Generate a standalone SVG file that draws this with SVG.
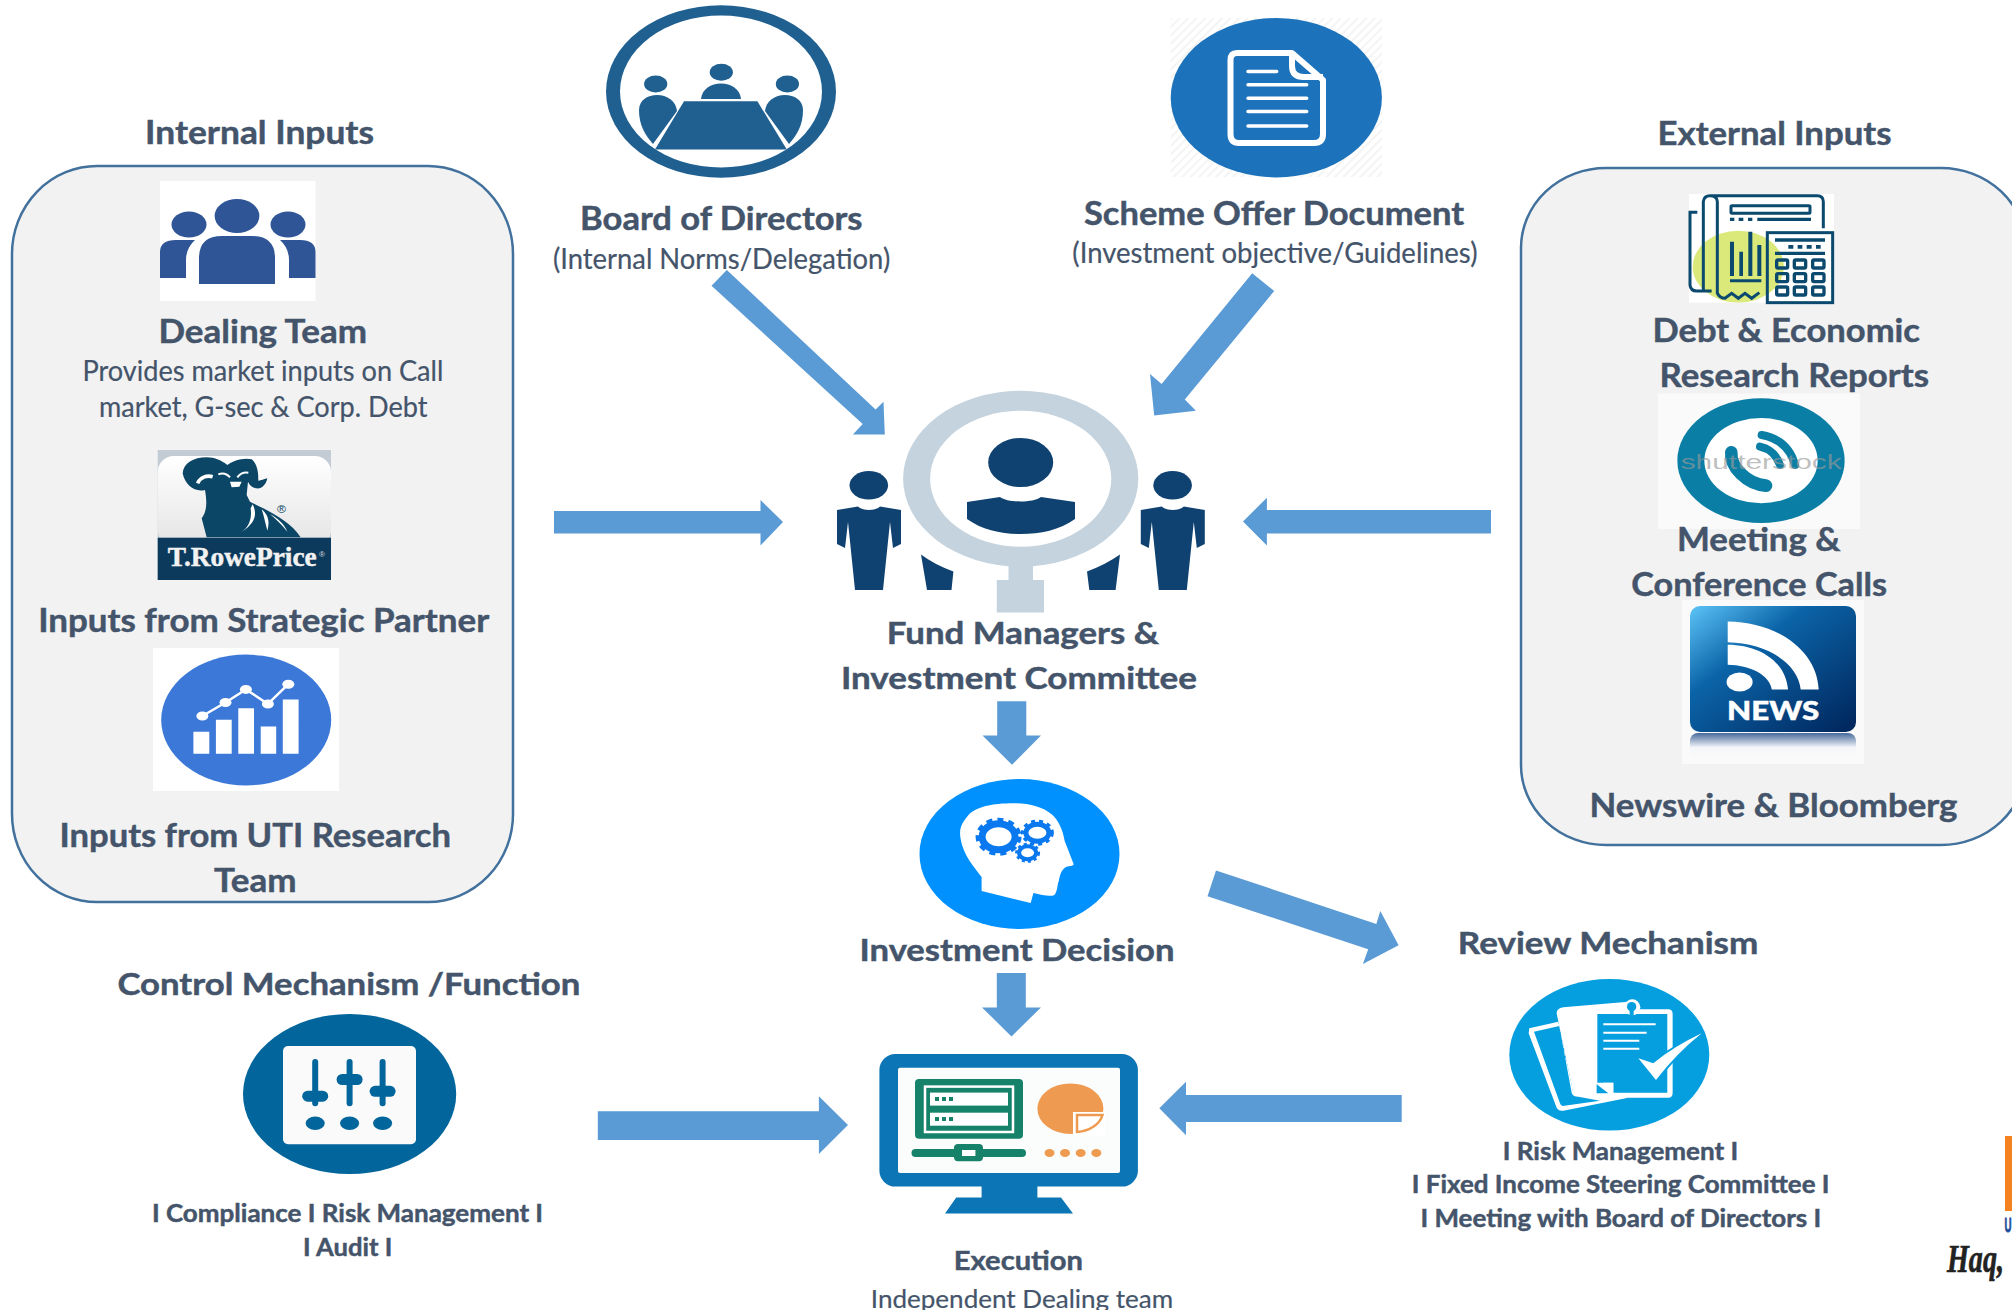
<svg xmlns="http://www.w3.org/2000/svg" width="2012" height="1310" viewBox="0 0 2012 1310">
<defs>
<style>
text{font-family:Lato,"Open Sans","Liberation Sans",sans-serif;fill:#44546a;stroke:#44546a;stroke-width:.45px;font-weight:700;font-size:33px}
.m{font-size:31px}
.b{font-size:24px}
.r{font-weight:400;font-size:28px;stroke-width:.2px}
.panel{fill:#f2f2f2;stroke:#41719c;stroke-width:2.5}
.arrow{fill:#5b9bd5}
.blue{fill:#2f5597}
.navy{fill:#0f4270}
.ln{fill:none;stroke:#0b4a6e;stroke-width:9}
.w{fill:#fff}
</style>
<linearGradient id="cardG" x1="0" y1="0" x2="0" y2="1"><stop offset="0" stop-color="#fff"/><stop offset="1" stop-color="#e4e4e4"/></linearGradient>
<linearGradient id="newsG" x1="0" y1="0" x2="1" y2="1"><stop offset="0" stop-color="#5cc4f7"/><stop offset=".35" stop-color="#0b64a8"/><stop offset="1" stop-color="#00245a"/></linearGradient>
<linearGradient id="reflG" x1="0" y1="0" x2="0" y2="1"><stop offset="0" stop-color="#46699c"/><stop offset=".6" stop-color="#f4f6f9"/><stop offset="1" stop-color="#fafafa"/></linearGradient>
<pattern id="hatch" width="6" height="6" patternUnits="userSpaceOnUse" patternTransform="rotate(45)"><rect width="6" height="6" fill="#fff"/><rect width="2" height="6" fill="#f4f4f4"/></pattern>
<clipPath id="repClip"><rect x="27" y="12" width="435" height="326"/></clipPath>
</defs>
<rect width="2012" height="1310" fill="#fff"/>

<g id="internal-inputs">
<rect class="panel" x="12" y="166" width="501" height="736" rx="85" ry="88"/>
<text x="145" y="144" textLength="229" lengthAdjust="spacingAndGlyphs">Internal Inputs</text>
</g>
<g id="dealing-team">
<rect class="w" x="160" y="181" width="155.5" height="120"/>
<ellipse class="blue" cx="237" cy="216" rx="22.4" ry="17"/>
<ellipse class="blue" cx="189" cy="224.5" rx="17.5" ry="13"/>
<ellipse class="blue" cx="288" cy="224.5" rx="17.5" ry="13"/>
<path class="blue" d="M160,278V252Q160,240 176,240H195Q186,248 186,260V278Z"/>
<path class="blue" d="M315.5,278V252Q315.5,240 300,240H280Q289,248 289,260V278Z"/>
<path class="blue" d="M199,284V258Q199,236 222,236H252Q275,236 275,258V284Z"/>
<text x="158.5" y="343" textLength="208.500" lengthAdjust="spacingAndGlyphs">Dealing Team</text>
<text class="r" x="82.4" y="381" textLength="361" lengthAdjust="spacingAndGlyphs">Provides market inputs on Call</text>
<text class="r" x="99" y="416.500" textLength="328.500" lengthAdjust="spacingAndGlyphs">market, G-sec &amp; Corp. Debt</text>
</g>
<g id="strategic-partner">
<rect x="157.7" y="450" width="173.3" height="130" fill="#c3ccd4"/>
<rect x="157.7" y="456" width="173.3" height="90" rx="16" fill="url(#cardG)"/>
<g transform="translate(150,440) scale(.3333)">
<path fill="#0b4666" d="M98,100C100,70 130,52 170,52C195,52 215,62 232,75C250,62 280,52 305,58C325,75 325,105 325,122C335,122 340,118 352,115C348,135 335,148 318,145C306,143 298,135 294,125L290,165L300,185C340,205 420,240 452,292H170L155,235C170,215 172,190 165,150C135,158 105,135 98,100Z"/>
<path fill="none" stroke="#fff" stroke-width="11" d="M143,130C150,112 170,105 188,110"/>
<path fill="none" stroke="#fff" stroke-width="6" d="M205,103Q225,95 240,112M262,112Q275,95 295,98"/>
<path fill="#fff" d="M240,125L275,125L268,140L245,142Z"/>
<path fill="#fff" d="M308,193C322,220 318,250 274,276C298,262 306,235 302,205ZM335,208C355,225 360,245 352,272C346,250 342,228 335,208ZM360,222C385,235 405,255 412,275C396,255 378,238 360,222Z"/>
</g>
<rect x="157.7" y="537.7" width="173.3" height="42.3" fill="#0c3a5c"/>
<text x="167.7" y="565.7" textLength="149" lengthAdjust="spacingAndGlyphs" style="font-family:'Liberation Serif',serif;fill:#f2f2f2;stroke:#f2f2f2;font-size:27px;font-weight:700">T.RowePrice</text>
<text x="277" y="513" textLength="9" lengthAdjust="spacingAndGlyphs" style="font-family:'Liberation Sans',sans-serif;fill:#0b4666;stroke:none;font-size:11px;font-weight:400">®</text>
<text x="319" y="557" textLength="6" lengthAdjust="spacingAndGlyphs" style="font-family:'Liberation Sans',sans-serif;fill:#ddd;stroke:none;font-size:8px;font-weight:400">®</text>
<text x="38.200" y="632" textLength="451" lengthAdjust="spacingAndGlyphs">Inputs from Strategic Partner</text>
</g>
<g id="uti-research">
<rect class="w" x="153" y="648" width="186" height="143"/>
<ellipse cx="246.2" cy="720" rx="85" ry="65.4" fill="#3c78d8"/>
<path class="w" d="M193.4,731.8h15.9v22h-15.9ZM215.9,719.8h15.8v34h-15.8ZM238.3,708.2h15.7v45.6h-15.7ZM260.7,726.6h15.5v27.2h-15.5ZM282.8,699.4h15.8v54.4h-15.8Z"/>
<path fill="none" stroke="#fff" stroke-width="2.5" d="M202.4,716L225.5,702.5L245.9,689.4L267.9,704L288.3,684.2"/>
<g class="w"><ellipse cx="202.4" cy="716" rx="6" ry="4.5"/><ellipse cx="225.5" cy="702.5" rx="6" ry="4.5"/><ellipse cx="245.9" cy="689.4" rx="6" ry="4.5"/><ellipse cx="267.9" cy="704" rx="6" ry="4.5"/><ellipse cx="288.3" cy="684.2" rx="6" ry="4.5"/></g>
<text x="59.500" y="847" textLength="391.500" lengthAdjust="spacingAndGlyphs">Inputs from UTI Research</text>
<text x="214" y="892" textLength="82.5" lengthAdjust="spacingAndGlyphs">Team</text>
</g>

<g id="external-inputs">
<rect class="panel" x="1521" y="168" width="505" height="677" rx="85" ry="80"/>
<text x="1657.500" y="144.8" textLength="234" lengthAdjust="spacingAndGlyphs">External Inputs</text>
</g>
<g id="research-reports">
<g transform="translate(1680,190) scale(.3333)">
<rect class="w" x="27" y="12" width="435" height="326"/>
<ellipse cx="175" cy="230" rx="137" ry="108" fill="#dbe87a" clip-path="url(#repClip)"/>
<path class="ln" d="M70,300V35Q72,17 90,17H412Q430,17 430,35V115M90,17Q112,17 112,35V310Q120,325 135,325L155,310L175,325L195,310L215,325L238,308M52,67H30V285Q32,303 50,303H95"/>
<rect class="ln" x="153" y="47" width="237" height="23" rx="3"/>
<path fill="#0b4a6e" d="M150,83h13v10h-13ZM176,83h14v10h-14ZM204,83h13v10h-13ZM232,83h161v10h-161ZM150,155h12v103h-12ZM178,185h11v73h-11ZM205,125h12v133h-12ZM232,165h12v93h-12ZM150,268h94v9h-94ZM285,145h150v10h-150ZM325,165h15v11h-15ZM353,165h14v11h-14ZM380,165h15v11h-15ZM408,165h14v11h-14ZM285,185h150v10h-150Z"/>
<rect x="262" y="128" width="196" height="210" fill="none" stroke="#0b4a6e" stroke-width="9"/>
<g class="ln" style="stroke-width:10"><rect x="290" y="210" width="33" height="24" rx="4"/><rect x="343" y="210" width="34" height="24" rx="4"/><rect x="398" y="210" width="34" height="24" rx="4"/><rect x="290" y="251" width="33" height="24" rx="4"/><rect x="343" y="251" width="34" height="24" rx="4"/><rect x="398" y="251" width="34" height="24" rx="4"/><rect x="290" y="291" width="33" height="24" rx="4"/><rect x="343" y="291" width="34" height="24" rx="4"/><rect x="398" y="291" width="34" height="24" rx="4"/></g>
</g>
<text x="1652.500" y="342.3" textLength="267.500" lengthAdjust="spacingAndGlyphs">Debt &amp; Economic</text>
<text x="1659.500" y="387" textLength="269.500" lengthAdjust="spacingAndGlyphs">Research Reports</text>
</g>
<g id="conference-calls">
<rect x="1658" y="393.5" width="202" height="135.5" fill="#fafafa"/>
<g transform="translate(1660,395) scale(.3333)">
<ellipse cx="303" cy="197" rx="251" ry="187" fill="#0a7ea4"/>
<ellipse cx="303" cy="197" rx="170" ry="128" fill="#fff"/>
<path fill="none" stroke="#0a7ea4" stroke-width="38" stroke-linecap="round" d="M214,172C210,215 260,268 318,272"/>
<path fill="none" stroke="#0a7ea4" stroke-width="24" stroke-linecap="round" d="M300,155Q345,165 360,210M305,120Q385,135 405,210"/>
</g>
<text x="1680.7" y="469" textLength="161" lengthAdjust="spacingAndGlyphs" style="font-family:'Liberation Sans',sans-serif;font-size:21px;font-weight:400;fill:#9a9a9a;stroke:none;fill-opacity:.65">shutterstock</text>
<text x="1677" y="551.2" textLength="163.5" lengthAdjust="spacingAndGlyphs">Meeting &amp;</text>
<text x="1631.2" y="596" textLength="255.8" lengthAdjust="spacingAndGlyphs">Conference Calls</text>
</g>
<g id="newswire">
<rect x="1682" y="600" width="182" height="164" fill="#fafafa"/>
<rect x="1690" y="733" width="166" height="24" rx="8" fill="url(#reflG)"/>
<rect x="1690" y="606" width="166" height="126" rx="10" fill="url(#newsG)"/>
<path class="w" d="M1727.7,621.4C1777,622 1817,650 1818.7,689.6H1800.7C1798,662 1765,643 1727.7,642.3Z"/>
<path class="w" d="M1727.7,644.8C1760,645 1786,662 1788,689.6H1771.8C1770,675 1750,665 1727.7,664.7Z"/>
<ellipse class="w" cx="1739.6" cy="682" rx="13" ry="9.5"/>
<text x="1727" y="720.4" textLength="92.3" lengthAdjust="spacingAndGlyphs" style="fill:#fff;stroke:#fff;font-size:26px;font-weight:900">NEWS</text>
<text x="1589.500" y="817.4" textLength="368" lengthAdjust="spacingAndGlyphs">Newswire &amp; Bloomberg</text>
</g>

<g id="board-of-directors">
<ellipse cx="721" cy="91.5" rx="115" ry="86.2" fill="#1f6091"/>
<ellipse cx="721" cy="91.5" rx="101" ry="76" fill="#fff"/>
<g fill="#1f6091">
<path d="M684,101.3H757.4L786.8,149.6H655Z"/>
<ellipse cx="721.3" cy="72.3" rx="11.6" ry="8.5"/><ellipse cx="655.7" cy="84" rx="11.6" ry="8.5"/><ellipse cx="787.4" cy="84" rx="11.6" ry="8.5"/>
<path d="M701,99C702,89 711,83.5 721,83.5C731,83.5 740,89 741,99Z"/>
<path d="M639,110C639,100 648,95 657,95C667,95 676,101 677,111L653,144C645,135 639,125 639,110Z"/>
<path d="M803,110C803,100 794,95 785,95C775,95 766,101 765,111L789,144C797,135 803,125 803,110Z"/>
</g>
<text x="580.1" y="230" textLength="282.400" lengthAdjust="spacingAndGlyphs">Board of Directors</text>
<text class="r" x="553" y="268.7" textLength="337.200" lengthAdjust="spacingAndGlyphs">(Internal Norms/Delegation)</text>
</g>
<g id="scheme-offer-document">
<rect x="1170.7" y="18" width="211.3" height="159" fill="url(#hatch)"/>
<ellipse cx="1276.3" cy="97.7" rx="105.6" ry="79.7" fill="#1c73bb"/>
<path fill="none" stroke="#fff" stroke-width="6" stroke-linejoin="round" d="M1237,53H1292L1323,80V134Q1323,143 1314,143H1239Q1230.5,143 1230.5,134V60Q1230.5,53 1237,53ZM1292,53V66Q1292,77 1304,77H1323"/>
<path fill="none" stroke="#fff" stroke-width="3.5" stroke-linecap="round" d="M1248,71.4H1276.7M1248,84.8H1306.7M1248,98.2H1306.7M1248,111.6H1306.7M1248,125.9H1306.7"/>
<text x="1084" y="224.6" textLength="380" lengthAdjust="spacingAndGlyphs">Scheme Offer Document</text>
<text class="r" x="1072.3" y="263.4" textLength="405.2" lengthAdjust="spacingAndGlyphs">(Investment objective/Guidelines)</text>
</g>
<g id="fund-managers">
<ellipse cx="1020.7" cy="478.7" rx="117.6" ry="88" fill="#c5d3de"/>
<ellipse cx="1020.7" cy="478.7" rx="90.6" ry="68" fill="#fff"/>
<path fill="#c5d3de" d="M1008.5,560H1033V580H1044V612.5H996.8V580H1008.5Z"/>
<g class="navy">
<ellipse cx="1020.7" cy="462.5" rx="32.5" ry="24.5"/>
<path d="M967,502L1000,497C1008,503 1033,503 1041,497L1075,502V519C1060,530 1040,534 1021,534C1002,534 982,530 967,519Z"/>
<ellipse cx="868.8" cy="485.3" rx="19.3" ry="14.3"/>
<path d="M837,510L858,506.5C862,511 876,511 880,506.5L901,510V544L893,548L890,522L883,590H855L848,522L845,548L837,544Z"/>
<ellipse cx="1172.6" cy="485.3" rx="19.3" ry="14.3"/>
<path d="M1140.8,510L1161.8,506.5C1165.8,511 1179.800,511 1183.8,506.5L1204.8,510V544L1196.8,548L1193.8,522L1186.8,590H1158.8L1151.8,522L1148.8,548L1140.8,544Z"/>
<path d="M921,554.5Q935,565 953.4,571.4L951.5,590H927Z"/>
<path d="M1120,554.5Q1105,565 1087,571.4L1089.3,590H1115.6Z"/>
</g>
<text class="m" x="886.8" y="644" textLength="272.2" lengthAdjust="spacingAndGlyphs">Fund Managers &amp;</text>
<text class="m" x="840.9" y="688.8" textLength="356.1" lengthAdjust="spacingAndGlyphs">Investment Committee</text>
</g>
<g id="investment-decision">
<ellipse cx="1019.5" cy="854" rx="100" ry="75" fill="#0091ff"/>
<path class="w" d="M1016.4,803.3C995,803 975,806 967.3,816.6C961,824 959,830 960.6,838.7C963,855 975,868 981.6,876.9V891L1030.7,903L1033.4,893C1042,895 1050,897 1054.4,895C1058,890 1057,885 1058.8,880.9C1060,875 1061,870 1066.4,866.8C1070,866 1074,866 1073.6,864L1064.6,840.7C1063,830 1058,820 1052,814.6C1043,807 1030,803.5 1016.4,803.3Z"/>
<g fill="#fff" stroke="#0a78ee">
<ellipse cx="998.6" cy="836.7" rx="16.5" ry="13" stroke-width="7"/>
<ellipse cx="1037.4" cy="832.7" rx="11.5" ry="8.5" stroke-width="5"/>
<ellipse cx="1027.6" cy="852.8" rx="8.5" ry="6.5" stroke-width="4"/>
</g>
<g fill="none" stroke="#0a78ee">
<ellipse cx="998.6" cy="836.7" rx="21" ry="17" stroke-width="4" stroke-dasharray="6 5"/>
<ellipse cx="1037.4" cy="832.7" rx="15" ry="11.5" stroke-width="3" stroke-dasharray="4 4"/>
<ellipse cx="1027.6" cy="852.8" rx="11" ry="8.5" stroke-width="3" stroke-dasharray="3 3"/>
</g>
<text class="m" x="859.5" y="961" textLength="315" lengthAdjust="spacingAndGlyphs">Investment Decision</text>
</g>
<g id="execution">
<rect x="879.4" y="1054" width="258.5" height="132.6" rx="16" fill="#0c75b5"/>
<path fill="#0c75b5" d="M981.6,1186H1037.4V1197.5H1061L1073,1213.6H945L956.2,1197.5H981.6Z"/>
<rect x="898" y="1067.7" width="222" height="105.3" rx="2" fill="#fbfdfc"/>
<rect x="915" y="1079" width="108" height="59.8" rx="4" fill="#168269"/>
<rect x="925" y="1086.6" width="88" height="45.4" fill="none" stroke="#fff" stroke-width="2.5"/>
<rect x="930" y="1092.6" width="78" height="13" fill="#fff"/><rect x="930" y="1112.7" width="78" height="13" fill="#fff"/>
<g fill="#168269"><rect x="935" y="1097" width="4" height="4"/><rect x="942" y="1097" width="4" height="4"/><rect x="949" y="1097" width="4" height="4"/><rect x="935" y="1117" width="4" height="4"/><rect x="942" y="1117" width="4" height="4"/><rect x="949" y="1117" width="4" height="4"/>
<rect x="911.5" y="1149" width="114.5" height="8" rx="4"/><rect x="954" y="1144" width="29" height="17.3" rx="4"/></g>
<rect class="w" x="962" y="1150" width="13.4" height="6"/>
<ellipse cx="1070.4" cy="1108.7" rx="33" ry="25.3" fill="#ee9a50"/>
<path fill="#fff" d="M1073,1112H1105V1136H1073Z"/>
<path fill="#fff" stroke="#ee9a50" stroke-width="2.5" d="M1077,1115H1102.5C1100,1124 1090,1131 1077,1132Z"/>
<g fill="#ee9a50"><ellipse cx="1049.5" cy="1153" rx="5" ry="4"/><ellipse cx="1065" cy="1153" rx="5" ry="4"/><ellipse cx="1080.7" cy="1153" rx="5" ry="4"/><ellipse cx="1096.3" cy="1153" rx="5" ry="4"/></g>
<text x="953.8" y="1269.8" textLength="129.2" lengthAdjust="spacingAndGlyphs" style="font-size:27px">Execution</text>
<text x="870.8" y="1307.6" textLength="302.4" lengthAdjust="spacingAndGlyphs" style="font-size:25px;font-weight:400;stroke-width:.2px">Independent Dealing team</text>
</g>
<g id="control-mechanism">
<text class="m" x="117.4" y="994.5" textLength="463" lengthAdjust="spacingAndGlyphs">Control Mechanism /Function</text>
<ellipse cx="349.6" cy="1094" rx="106.6" ry="80" fill="#02659b"/>
<rect x="283" y="1046" width="133" height="98.3" rx="5" fill="#fafafa"/>
<g fill="#02659b">
<rect x="312.2" y="1059" width="6" height="47.2" rx="3"/><rect x="346.6" y="1059" width="6" height="47.2" rx="3"/><rect x="379.6" y="1059" width="6" height="47.2" rx="3"/>
<rect x="302.2" y="1090.7" width="26" height="11" rx="5.5"/><rect x="336.6" y="1074" width="26" height="11" rx="5.5"/><rect x="369.6" y="1085.8" width="26" height="11" rx="5.5"/>
<ellipse cx="315.2" cy="1123.3" rx="9.5" ry="6.8"/><ellipse cx="349.6" cy="1123.3" rx="9.5" ry="6.8"/><ellipse cx="382.6" cy="1123.3" rx="9.5" ry="6.8"/>
</g>
<text class="b" x="151.9" y="1222" textLength="391.2" lengthAdjust="spacingAndGlyphs">I Compliance I Risk Management I</text>
<text class="b" x="303.1" y="1255.5" textLength="89.2" lengthAdjust="spacingAndGlyphs">I Audit I</text>
</g>
<g id="review-mechanism">
<text class="m" x="1457.8" y="954.3" textLength="300.5" lengthAdjust="spacingAndGlyphs">Review Mechanism</text>
<ellipse cx="1609.3" cy="1054.8" rx="100" ry="75.8" fill="#059fe0"/>
<g transform="translate(1400,900) scale(.3333)">
<path class="w" d="M388,385L475,365L520,578H590L685,593L490,632Q472,634 468,618L386,400Z"/>
<path fill="#059fe0" d="M402,395L478,378L515,578Q518,590 535,590L600,602L488,618Q482,616 480,610Z"/>
<path fill="#fff" d="M470,340Q470,325 490,322L685,305L700,340L590,345V580H520Z"/>
<path fill="#fff" d="M592,328H805Q818,328 818,342V578Q818,593 805,593H600L578,580V342Q578,328 592,328Z"/>
<path fill="#059fe0" d="M592,342H802V578H640V548H610L592,562Z"/>
<path fill="#fff" d="M590,548L640,548V580L605,590Z"/>
<path fill="#059fe0" d="M590,553L625,580H590Z"/>
<path fill="none" stroke="#fff" stroke-width="6" d="M610,373H767M610,398H740M610,422H718M610,446H718"/>
<path fill="none" stroke="#059fe0" stroke-width="6" d="M428,412L482,400M436,435L486,424M444,458L492,447M453,481L497,471"/>
<circle cx="697" cy="322" r="24" fill="#fff"/>
<circle cx="695" cy="320" r="14" fill="#059fe0"/><rect x="689" y="325" width="12" height="22" fill="#059fe0"/>
<path fill="#059fe0" d="M708,472L760,482Q820,432 915,392Q835,460 768,552Z"/>
<path class="w" d="M715,475L760,490Q820,440 905,400Q830,460 768,540Z"/>
</g>
<text class="b" x="1502.8" y="1160" textLength="235.4" lengthAdjust="spacingAndGlyphs">I Risk Management I</text>
<text class="b" x="1411.8" y="1192.7" textLength="417.7" lengthAdjust="spacingAndGlyphs">I Fixed Income Steering Committee I</text>
<text class="b" x="1420.5" y="1226.7" textLength="400.7" lengthAdjust="spacingAndGlyphs">I Meeting with Board of Directors I</text>
</g>
<g id="logo">
<rect x="2005" y="1136" width="7" height="75" fill="#f58220"/>
<text transform="translate(2004.5,1232) scale(1,2)" textLength="7" lengthAdjust="spacingAndGlyphs" style="font-size:10px;fill:#1f4e9c;stroke:#1f4e9c;font-family:'Liberation Sans',sans-serif">U</text>
<text transform="translate(1947,1272) scale(1,1.45)" textLength="57" lengthAdjust="spacingAndGlyphs" style="font-family:'Liberation Serif',serif;font-style:italic;font-size:28px;font-weight:700;fill:#222;stroke:#222">Haq,</text>
</g>

<g id="connectors">
<polygon class="arrow" points="726.8,270 875.6,409.4 883.5,401.8 884.8,434.4 852.9,434.4 862.7,424 711.5,285.7"/>
<polygon class="arrow" points="1252.2,273.2 1274.2,291 1184.8,399.6 1195.9,410.7 1154.2,415.6 1150,374 1161.6,384"/>
<polygon class="arrow" points="554,511 760.5,511 760.5,500 783,522 760.5,545.5 760.5,533.5 554,533.5"/>
<polygon class="arrow" points="1491,510 1266.9,510 1266.9,497.8 1243,521.4 1266.9,545.5 1266.9,533.5 1491,533.5"/>
<polygon class="arrow" points="997.2,701.3 1026.3,701.3 1026.3,735.4 1041,735.4 1012,764.8 982.5,735.4 997.2,735.4"/>
<polygon class="arrow" points="996.8,972.9 1025.8,972.9 1025.8,1007.4 1041,1007.4 1011.5,1036.4 982,1007.4 996.8,1007.4"/>
<polygon class="arrow" points="1216,870.4 1376.3,923.9 1380.3,911 1398.6,945.2 1362.9,964 1368.2,949.2 1207.5,896.2"/>
<polygon class="arrow" points="1401.7,1095 1186,1095 1186,1081.8 1159.3,1108.3 1186,1135.2 1186,1122 1401.7,1122"/>
<polygon class="arrow" points="597.8,1111.2 818.9,1111.2 818.9,1096.3 848,1125 818.9,1154 818.9,1139.9 597.8,1139.9"/>
</g>
</svg>
